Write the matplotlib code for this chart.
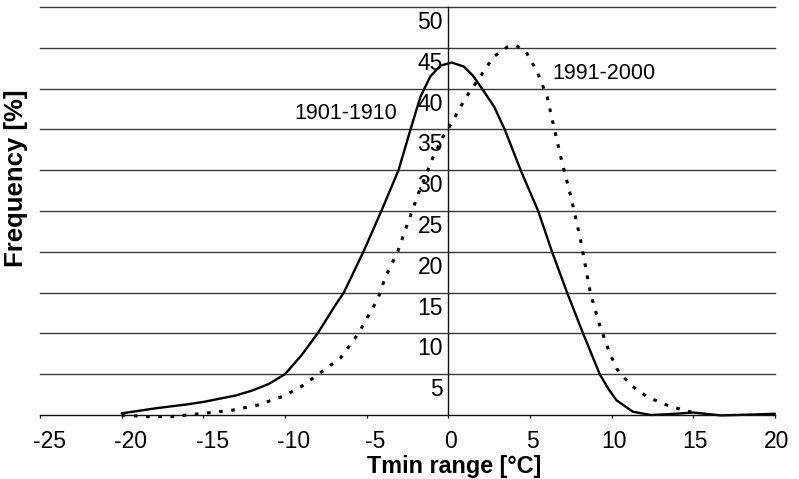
import matplotlib
matplotlib.use("Agg")
import matplotlib.pyplot as plt
from matplotlib.transforms import ScaledTranslation

plt.rcParams['font.family'] = ['Liberation Sans', 'DejaVu Sans']
plt.rcParams['axes.unicode_minus'] = False

# Frequency distribution of Tmin range, 1901-1910 (solid)
x_1901 = [-20.0, -18.0, -16.0, -15.0, -14.0, -13.0, -12.0, -11.0, -10.0, -9.0,
          -8.0, -7.0, -6.4, -5.2, -4.1, -3.05, -2.33, -1.71, -1.1, -0.49,
          0.2, 0.95, 1.5, 2.06, 2.8, 3.45, 4.43, 5.5, 6.35, 7.27,
          8.25, 9.27, 9.8, 10.3, 11.3, 12.4, 13.5, 15.0, 16.7, 18.5, 20.0]
f_1901 = [0.2, 0.8, 1.3, 1.6, 2.0, 2.4, 3.0, 3.8, 5.0, 7.3,
          10.0, 13.2, 15.0, 20.0, 25.0, 30.0, 34.9, 39.0, 41.5, 42.8,
          43.2, 42.7, 41.6, 40.0, 37.8, 35.0, 30.0, 25.0, 20.0, 15.0,
          10.0, 5.0, 3.2, 1.8, 0.4, 0.0, 0.1, 0.3, -0.05, 0.05, 0.15]

# Frequency distribution of Tmin range, 1991-2000 (dotted)
x_1991 = [-20.0, -18.5, -17.0, -15.0, -13.2, -11.7, -10.1, -9.0, -7.95, -6.6,
          -5.5, -4.3, -3.86, -3.1, -2.63, -1.82, -1.0, -0.33, 0.0, 1.04,
          1.96, 2.77, 3.6, 4.1, 4.7, 5.43, 6.05, 6.46, 6.97, 7.5,
          8.1, 8.7, 9.3, 9.8, 10.3, 11.15, 12.2, 13.4, 14.4, 15.0]
f_1991 = [0.0, -0.2, -0.2, 0.2, 0.6, 1.2, 2.3, 3.5, 5.0, 7.0,
          10.0, 14.3, 16.9, 20.0, 22.7, 27.2, 31.3, 34.1, 35.1, 38.8,
          41.5, 43.9, 45.1, 45.3, 44.7, 42.1, 39.0, 35.3, 30.9, 26.8,
          21.4, 14.9, 10.8, 8.0, 5.7, 3.7, 2.2, 1.2, 0.6, 0.3]

x_ticks = [-25, -20, -15, -10, -5, 0, 5, 10, 15, 20]
x_tick_labels = ['-25', '-20', '-15', '-10', '-5', '0', '5', '10', '15', '20']
y_ticks = [5, 10, 15, 20, 25, 30, 35, 40, 45, 50]
y_tick_labels = ['5', '10', '15', '20', '25', '30', '35', '40', '45', '50']

fig = plt.figure(figsize=(7.99, 4.79), dpi=100)
ax = fig.add_axes([40 / 799, 1 - 415 / 479, 735 / 799, 408 / 479])
ax.set_xlim(-25, 20)
ax.set_ylim(0, 50)

for side in ('top', 'right'):
    ax.spines[side].set_visible(False)
ax.spines['left'].set_position(('data', 0))
ax.spines['bottom'].set_position(('data', 0))
for side in ('left', 'bottom'):
    ax.spines[side].set_linewidth(1.0)
    ax.spines[side].set_color('#111111')

ax.set_xticks(x_ticks)
ax.set_xticklabels(x_tick_labels)
ax.set_yticks(y_ticks)
ax.set_yticklabels(y_tick_labels)
ax.tick_params(axis='x', direction='out', length=2.5, width=0.9,
               labelsize=16.5, pad=8.5, color='#111111')
ax.tick_params(axis='y', length=0, labelsize=16.5, pad=4.0)

# horizontal grid
ax.yaxis.grid(True, color='#3a3a3a', linewidth=1.0)
ax.set_axisbelow(True)
for gl in ax.get_ygridlines():
    gl.set_clip_on(False)

# y labels sit just below their grid lines
dy = ScaledTranslation(0, -13 / 100, fig.dpi_scale_trans)
for lab in ax.get_yticklabels():
    lab.set_transform(lab.get_transform() + dy)
# x labels nudged right (negative numbers a little more)
for val, lab in zip(x_ticks, ax.get_xticklabels()):
    shift = 9 if val < 0 else 2
    lab.set_transform(lab.get_transform()
                      + ScaledTranslation(shift / 100, 0, fig.dpi_scale_trans))

ax.plot(x_1901, f_1901, color='black', linewidth=1.7, clip_on=False,
        solid_joinstyle='round', solid_capstyle='round')
ax.plot(x_1991, f_1991, color='black', linewidth=2.2, clip_on=False,
        linestyle=(0, (1.2, 2.8)))

ax.text(-6.3, 37.0, '1901-1910', fontsize=15.5, ha='center', va='center')
ax.text(9.5, 41.85, '1991-2000', fontsize=15.5, ha='center', va='center')

fig.text(16 / 799, 1 - 178 / 479, 'Frequency [%]', rotation=90,
         fontsize=18.5, fontweight='bold', ha='center', va='center')
fig.text(454 / 799, 1 - 467 / 479, 'Tmin range [°C]',
         fontsize=16.8, fontweight='bold', ha='center', va='center')

fig.savefig('out.png', dpi=100)
